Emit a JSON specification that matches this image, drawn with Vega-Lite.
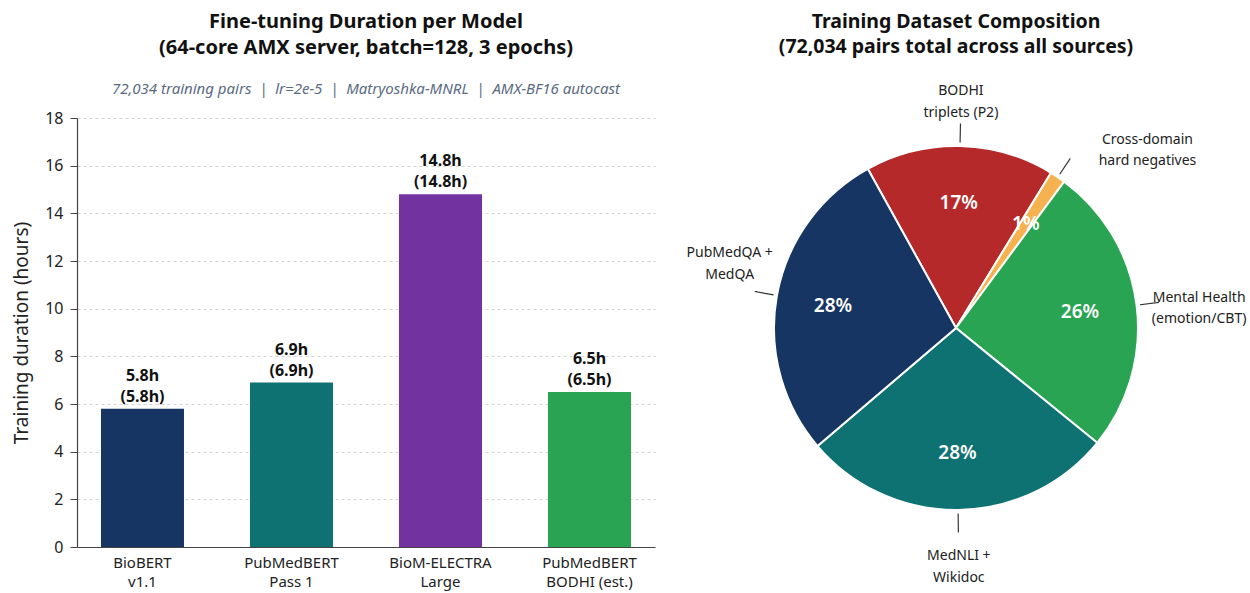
{
  "$schema": "https://vega.github.io/schema/vega-lite/v6.json",
  "background": "white",
  "padding": {"left": 12, "top": 11, "right": 5, "bottom": 2},
  "config": {"view": {"stroke": null}, "font": "Noto Sans", "concat": {"spacing": 31}},
  "resolve": {"scale": {"color": "independent", "theta": "independent"}},
  "hconcat": [
    {
      "width": 578,
      "height": 429,
      "title": {
        "text": ["Fine-tuning Duration per Model", "(64-core AMX server, batch=128, 3 epochs)"],
        "subtitle": "72,034 training pairs\u00a0\u00a0|\u00a0\u00a0lr=2e-5\u00a0\u00a0|\u00a0\u00a0Matryoshka-MNRL\u00a0\u00a0|\u00a0\u00a0AMX-BF16 autocast",
        "fontSize": 20,
        "fontWeight": "bold",
        "lineHeight": 26,
        "color": "#111111",
        "subtitleFontSize": 15,
        "subtitleFontStyle": "italic",
        "subtitleColor": "#5b6b82",
        "subtitlePadding": 24,
        "offset": 13,
        "anchor": "middle"
      },
      "data": {"values": [
        {"model": "BioBERT\nv1.1", "hours": 5.8},
        {"model": "PubMedBERT\nPass 1", "hours": 6.9},
        {"model": "BioM-ELECTRA\nLarge", "hours": 14.8},
        {"model": "PubMedBERT\nBODHI (est.)", "hours": 6.5}
      ]},
      "transform": [
        {"calculate": "[format(datum.hours,'.1f')+'h','('+format(datum.hours,'.1f')+'h)']", "as": "lbl"}
      ],
      "encoding": {
        "x": {
          "field": "model", "type": "nominal", "sort": null,
          "scale": {"paddingInner": 0.443, "paddingOuter": 0.161},
          "axis": {
            "title": null, "labelAngle": 0, "labelExpr": "split(datum.label, '\\n')",
            "labelFontSize": 15, "labelColor": "#222222", "labelLineHeight": 19,
            "ticks": false, "labelPadding": 8, "domainColor": "#444444", "domainWidth": 1.2
          }
        },
        "y": {
          "field": "hours", "type": "quantitative",
          "scale": {"domain": [0, 18], "nice": false},
          "axis": {
            "title": "Training duration (hours)", "titleFontSize": 19, "titleFontWeight": "normal",
            "titleColor": "#222222", "titlePadding": 13, "values": [0,2,4,6,8,10,12,14,16,18],
            "labelFontSize": 16, "labelColor": "#222222", "labelPadding": 7, "tickSize": 7,
            "tickColor": "#444444", "domainColor": "#444444", "domainWidth": 1.2,
            "grid": true, "gridDash": [3, 3], "gridColor": "#c8c8c8", "gridWidth": 0.8
          }
        }
      },
      "layer": [
        {
          "mark": {"type": "bar"},
          "encoding": {
            "color": {
              "field": "model", "type": "nominal", "legend": null,
              "scale": {
                "domain": ["BioBERT\nv1.1", "PubMedBERT\nPass 1", "BioM-ELECTRA\nLarge", "PubMedBERT\nBODHI (est.)"],
                "range": ["#173563", "#0f7272", "#7232a0", "#28a452"]
              }
            }
          }
        },
        {
          "mark": {"type": "text", "baseline": "bottom", "dy": -25, "fontSize": 16, "fontWeight": "bold", "lineHeight": 21, "color": "#111111"},
          "encoding": {"text": {"field": "lbl"}}
        }
      ]
    },
    {
      "width": 420,
      "height": 420,
      "title": {
        "text": ["Training Dataset Composition", "(72,034 pairs total across all sources)"],
        "fontSize": 19.5,
        "fontWeight": "bold",
        "lineHeight": 25,
        "color": "#111111",
        "offset": 27,
        "anchor": "middle"
      },
      "data": {"values": [
        {"source": "BODHI\ntriplets (P2)", "pairs": 12100},
        {"source": "Cross-domain\nhard negatives", "pairs": 1000},
        {"source": "Mental Health\n(emotion/CBT)", "pairs": 18534},
        {"source": "MedNLI +\nWikidoc", "pairs": 20100},
        {"source": "PubMedQA +\nMedQA", "pairs": 20300}
      ]},
      "transform": [
        {"window": [{"op": "row_number", "as": "idx"}]},
        {"stack": "pairs", "groupby": [], "sort": [{"field": "idx", "order": "ascending"}], "as": ["a0", "a1"]},
        {"calculate": "(datum.a0 + datum.a1) / 2", "as": "mid"},
        {"calculate": "datum.mid + 5", "as": "mid2"},
        {"calculate": "format(datum.pairs / 72034, '.0%')", "as": "pct"},
        {"calculate": "split(datum.source, '\\n')", "as": "lines"}
      ],
      "layer": [
        {
          "mark": {"type": "arc", "radius": 182, "stroke": "white", "strokeWidth": 2},
          "encoding": {
            "theta": {"field": "a0", "type": "quantitative", "scale": {"domain": [0, 72034], "range": [-0.506, 5.777]}},
            "theta2": {"field": "a1"},
            "color": {
              "field": "source", "type": "nominal", "legend": null,
              "scale": {
                "domain": ["BODHI\ntriplets (P2)", "Cross-domain\nhard negatives", "Mental Health\n(emotion/CBT)", "MedNLI +\nWikidoc", "PubMedQA +\nMedQA"],
                "range": ["#b5292b", "#f6b24e", "#28a452", "#0f7272", "#173563"]
              }
            }
          }
        },
        {
          "mark": {"type": "arc", "radius": 204, "radius2": 186, "fill": null, "stroke": "#333333", "strokeWidth": 1.1},
          "encoding": {
            "theta": {"field": "mid", "type": "quantitative"},
            "theta2": {"field": "mid2"}
          }
        },
        {
          "mark": {"type": "text", "radius": 125, "fontSize": 19, "fontWeight": 600, "color": "white", "align": "center", "baseline": "middle"},
          "encoding": {
            "theta": {"field": "mid", "type": "quantitative"},
            "text": {"field": "pct"}
          }
        },
        {
          "transform": [{"filter": "datum.idx == 1"}],
          "mark": {"type": "text", "radius": 226, "fontSize": 14, "color": "#222222", "align": "center", "baseline": "middle", "lineHeight": 22, "dy": -11},
          "encoding": {"theta": {"field": "mid", "type": "quantitative"}, "text": {"field": "lines"}}
        },
        {
          "transform": [{"filter": "datum.idx == 2"}],
          "mark": {"type": "text", "radius": 212, "dx": 73, "dy": -12, "fontSize": 14, "color": "#222222", "align": "center", "baseline": "middle", "lineHeight": 21},
          "encoding": {"theta": {"field": "mid", "type": "quantitative"}, "text": {"field": "lines"}}
        },
        {
          "transform": [{"filter": "datum.idx == 3"}],
          "mark": {"type": "text", "radius": 238, "dx": 7, "dy": 0, "fontSize": 14, "color": "#222222", "align": "center", "baseline": "middle", "lineHeight": 21},
          "encoding": {"theta": {"field": "mid", "type": "quantitative"}, "text": {"field": "lines"}}
        },
        {
          "transform": [{"filter": "datum.idx == 4"}],
          "mark": {"type": "text", "radius": 239, "dy": -11, "fontSize": 14, "color": "#222222", "align": "center", "baseline": "middle", "lineHeight": 22},
          "encoding": {"theta": {"field": "mid", "type": "quantitative"}, "text": {"field": "lines"}}
        },
        {
          "transform": [{"filter": "datum.idx == 5"}],
          "mark": {"type": "text", "radius": 230, "dy": -34, "fontSize": 14, "color": "#222222", "align": "center", "baseline": "middle", "lineHeight": 22},
          "encoding": {"theta": {"field": "mid", "type": "quantitative"}, "text": {"field": "lines"}}
        }
      ]
    }
  ]
}
